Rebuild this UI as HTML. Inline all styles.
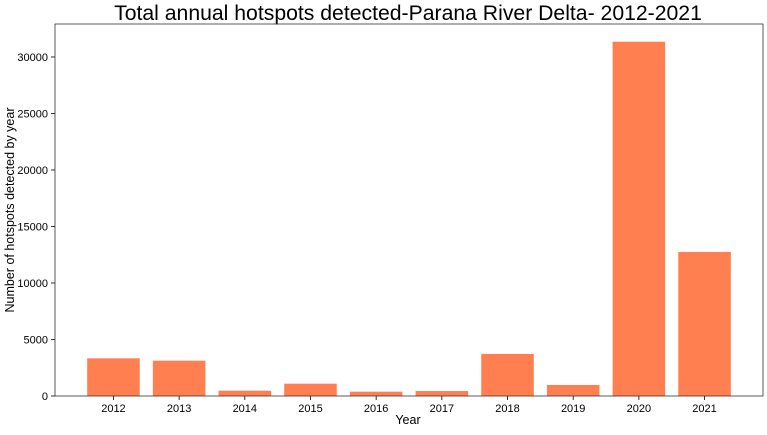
<!DOCTYPE html>
<html><head><meta charset="utf-8"><style>
body{margin:0;background:#fff;font-family:"Liberation Sans","DejaVu Sans",sans-serif}
</style></head><body>
<svg id="chart" width="767" height="430" xmlns="http://www.w3.org/2000/svg">
<text x="408" y="20" font-size="21.2" text-anchor="middle" fill="#000">Total annual hotspots detected-Parana River Delta- 2012-2021</text>
<g id="bars"></g>
<g id="axes"></g>
<text x="408" y="424" font-size="12.5" text-anchor="middle">Year</text>
<text transform="translate(14,210) rotate(-90)" font-size="12.5" text-anchor="middle">Number of hotspots detected by year</text>
</svg>
<script>
const categories=["2012","2013","2014","2015","2016","2017","2018","2019","2020","2021"];
const values=[3336,3125,470,1090,380,440,3720,975,31350,12750];
const yTicks=[0,5000,10000,15000,20000,25000,30000];
const L=55,R=763,T=24,B=396;
const n=categories.length;
const xmin=-0.89,xmax=n-1+0.89;
const ymax=Math.max(...values)*1.05;
const xs=v=>L+(v-xmin)/(xmax-xmin)*(R-L);
const ys=v=>B-v/ymax*(B-T);
const NS="http://www.w3.org/2000/svg";
const bars=document.getElementById('bars'),axes=document.getElementById('axes');
function mk(tag,attrs,parent){const e=document.createElementNS(NS,tag);for(const k in attrs)e.setAttribute(k,attrs[k]);parent.appendChild(e);return e;}
const bw=(xs(0.8)-xs(0));
values.forEach((v,i)=>{
 const r=mk('rect',{x:xs(i)-bw/2,y:ys(v),width:bw,height:B-ys(v),fill:'#ff7f50'},bars);
 
 
 const t=mk('line',{x1:xs(i),x2:xs(i),y1:B,y2:B+4,stroke:'#000','stroke-width':0.8},axes);
 
 
 const l=mk('text',{x:xs(i),y:B+16,'font-size':11,'text-anchor':'middle'},axes);
 l.textContent=categories[i];
 
 
});
yTicks.forEach(v=>{
 const t=mk('line',{x1:L-4,x2:L,y1:ys(v),y2:ys(v),stroke:'#000','stroke-width':0.8},axes);
 
 
 const l=mk('text',{x:L-7,y:ys(v)+4,'font-size':11,'text-anchor':'end'},axes);
 l.textContent=v;
 
 
});
const f=mk('rect',{x:L,y:T,width:R-L,height:B-T,fill:'none',stroke:'#333','stroke-width':0.8},axes);


</script>
</body></html>
